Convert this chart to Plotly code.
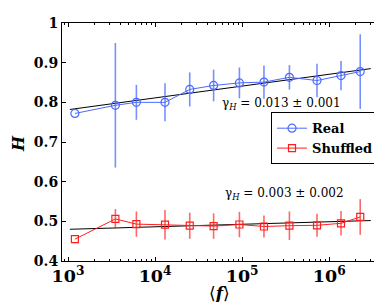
import plotly.graph_objects as go

# ---- data ----
f_mean = [1200, 3500, 6100, 13000, 25000, 47000, 93000, 178000, 349000, 724000, 1365000, 2270000]
H_real = [0.772, 0.7925, 0.800, 0.800, 0.8325, 0.8425, 0.849, 0.851, 0.863, 0.855, 0.8675, 0.8775]
H_real_err = [0.0, 0.157, 0.044, 0.048, 0.043, 0.040, 0.039, 0.042, 0.031, 0.042, 0.037, 0.094]
H_shuf = [0.455, 0.506, 0.493, 0.4915, 0.489, 0.488, 0.492, 0.487, 0.489, 0.490, 0.495, 0.511]
H_shuf_err = [0.0, 0.025, 0.032, 0.037, 0.033, 0.032, 0.032, 0.028, 0.036, 0.029, 0.031, 0.045]

fit_f = [1050, 3.0e6]
fit_real = [0.782, 0.885]
fit_shuf = [0.480, 0.502]

y_tickvals = [0.4, 0.5, 0.6, 0.7, 0.8, 0.9, 1.0]
y_ticktext = ["0.4", "0.5", "0.6", "0.7", "0.8", "0.9", "1"]

ann_real = "γ<sub><i>H</i></sub> = 0.013 ± 0.001"
ann_shuf = "γ<sub><i>H</i></sub> = 0.003 ± 0.002"

BLUE = "rgb(75,105,255)"
BLUE_ERR = "rgba(75,105,255,0.75)"
RED = "rgb(255,30,30)"
RED_ERR = "rgba(255,40,40,0.7)"
SERIF = "DejaVu Serif"

fig = go.Figure()

fig.add_trace(go.Scatter(x=fit_f, y=fit_real, mode="lines",
                         line=dict(color="black", width=1), showlegend=False, hoverinfo="skip"))
fig.add_trace(go.Scatter(x=fit_f, y=fit_shuf, mode="lines",
                         line=dict(color="black", width=1), showlegend=False, hoverinfo="skip"))

fig.add_trace(go.Scatter(
    x=f_mean, y=H_real, mode="lines+markers", name="<b>Real</b>",
    line=dict(color=BLUE, width=1),
    marker=dict(symbol="circle-open", size=8, color=BLUE, line=dict(width=1.2, color=BLUE)),
    error_y=dict(type="data", array=H_real_err, color=BLUE_ERR, thickness=1.6, width=0),
))
fig.add_trace(go.Scatter(
    x=f_mean, y=H_shuf, mode="lines+markers", name="<b>Shuffled</b>",
    line=dict(color=RED, width=1),
    marker=dict(symbol="square-open", size=7, color=RED, line=dict(width=1.2, color=RED)),
    error_y=dict(type="data", array=H_shuf_err, color=RED_ERR, thickness=1.6, width=0),
))

L, R, T, B = 54, 7, 13, 49
W, Hh = 382, 302
pw = W - L - R
ph = Hh - T - B

def px(xp):
    return (xp - L) / pw

def py(yp):
    return (Hh - B - yp) / ph

fig.update_layout(
    width=W, height=Hh,
    margin=dict(l=L, r=R, t=T, b=B, pad=0),
    paper_bgcolor="white", plot_bgcolor="white",
    font=dict(family=SERIF, color="black"),
    showlegend=True,
    legend=dict(
        x=px(372), y=py(103), xanchor="right", yanchor="top",
        bgcolor="white", bordercolor="black", borderwidth=1,
        font=dict(family=SERIF, size=13, color="black"),
        itemwidth=30, tracegroupgap=0,
    ),
    xaxis=dict(
        type="log", range=[2.931, 6.606],
        tickmode="linear", tick0=0, dtick=1,
        exponentformat="power", showexponent="all",
        ticks="inside", ticklen=4, tickcolor="black",
        showline=True, linecolor="black", linewidth=1, mirror="ticks",
        showgrid=False, zeroline=False,
        tickfont=dict(family=SERIF, size=14, color="black", weight="bold"),
        minor=dict(ticks="inside", ticklen=2, tickcolor="black", showgrid=False, dtick="D1"),
    ),
    yaxis=dict(
        range=[0.4, 1.0],
        tickvals=y_tickvals, ticktext=["<b>" + t + "</b>" for t in y_ticktext],
        ticks="inside", ticklen=4, tickcolor="black",
        showline=True, linecolor="black", linewidth=1, mirror="ticks",
        showgrid=False, zeroline=False,
        tickfont=dict(family=SERIF, size=14, color="black"),
    ),
    annotations=[
        dict(text="<b><i>H</i></b>", x=px(11), y=py(135), xref="paper", yref="paper",
             xanchor="center", yanchor="middle",
             showarrow=False, textangle=-90, font=dict(family=SERIF, size=16, color="black")),
        dict(text="⟨<b><i>f</i></b>⟩", x=px(212), y=py(285), xref="paper", yref="paper",
             xanchor="center", yanchor="middle",
             showarrow=False, font=dict(family=SERIF, size=17, color="black")),
        dict(text=ann_real, x=px(274), y=py(95), xref="paper", yref="paper",
             xanchor="center", yanchor="middle",
             showarrow=False, font=dict(family=SERIF, size=12, color="black")),
        dict(text=ann_shuf, x=px(277), y=py(185), xref="paper", yref="paper",
             xanchor="center", yanchor="middle",
             showarrow=False, font=dict(family=SERIF, size=12, color="black")),
    ],
)

fig.write_html("out.html")
